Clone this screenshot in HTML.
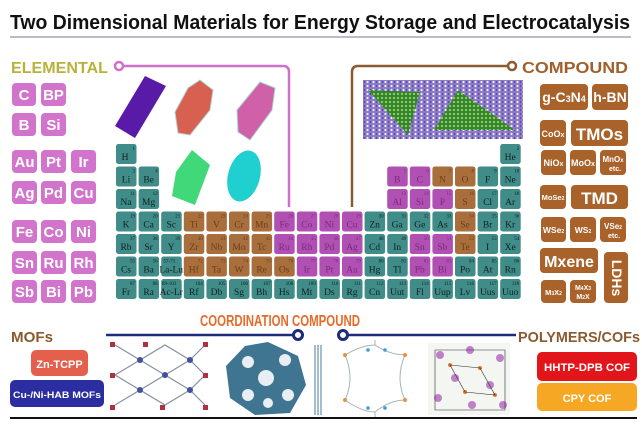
<!DOCTYPE html>
<html><head><meta charset="utf-8"><style>
html,body{margin:0;padding:0;background:#fff;width:642px;height:429px;overflow:hidden}
svg{display:block}
.c rect{width:20.5px;height:20px;rx:2.5px}
.t rect{fill:#3f8c88}.b rect{fill:#a86e3c}.m rect{fill:#b050b2}
.c text{font-family:"Liberation Serif",serif;font-size:9.5px;text-anchor:middle;fill:#10201f}
.c text.n{font-size:5px;text-anchor:end}
.b text{fill:#6a3e18}.m text{fill:#7a2a80}
.pk rect{fill:#d274cc}.pk text,.br text{font-family:"Liberation Sans",sans-serif;font-weight:bold;fill:#fff;text-anchor:middle}
.br rect{fill:#a8622a}
</style></head><body>
<svg width="642" height="429" viewBox="0 0 642 429" xmlns="http://www.w3.org/2000/svg">
<defs>
<pattern id="hb" width="6" height="4" patternUnits="userSpaceOnUse"><rect width="6" height="4" fill="#8a7ac8"/><circle cx="1.5" cy="2" r="1.1" fill="#f0eaf8"/><circle cx="4.5" cy="2" r="0.9" fill="#5a3a9a"/></pattern>
<pattern id="dots" width="4" height="4" patternUnits="userSpaceOnUse"><rect width="4" height="4" fill="#2a8a3a"/><circle cx="2" cy="2" r="1" fill="#d8d040"/></pattern>
</defs>
<text x="320" y="29" font-family="Liberation Sans,sans-serif" font-weight="bold" font-size="20" text-anchor="middle" textLength="620" lengthAdjust="spacingAndGlyphs" fill="#111">Two Dimensional Materials for Energy Storage and Electrocatalysis</text>
<line x1="10" y1="37" x2="631" y2="37" stroke="#777890" stroke-width="1"/>

<text x="11" y="73" font-family="Liberation Sans,sans-serif" font-weight="bold" font-size="16" textLength="97" lengthAdjust="spacingAndGlyphs" fill="#b8b23a">ELEMENTAL</text>
<path d="M124 66 H283 Q289 66 289 72 V207" fill="none" stroke="#d070c8" stroke-width="2.5"/>
<circle cx="119" cy="66" r="4" fill="#fff" stroke="#d070c8" stroke-width="2.5"/>

<text x="628" y="73" font-family="Liberation Sans,sans-serif" font-weight="bold" font-size="16" text-anchor="end" textLength="106" lengthAdjust="spacingAndGlyphs" fill="#a0602a">COMPOUND</text>
<path d="M352 207 V72 Q352 66 358 66 H507" fill="none" stroke="#8a5a30" stroke-width="2.5"/>
<circle cx="512" cy="66" r="4" fill="#fff" stroke="#8a5a30" stroke-width="2.5"/>

<!-- elemental images -->
<polygon points="145,76 166,86 135,138 115,126" fill="#5a1aa8"/>
<polygon points="200,80 213,90 210,110 190,135 178,133 175,112 188,88" fill="#d86050" stroke="#b0d0d0"/>
<polygon points="260,82 275,88 272,110 250,140 238,132 237,110" fill="#d060a8" stroke="#a8d0d0"/>
<polygon points="192,150 210,165 195,205 172,196 176,172" fill="#40d878"/>
<ellipse cx="244" cy="176" rx="16" ry="26" fill="#20d0d0" transform="rotate(15 244 176)"/>
<!-- compound image -->
<rect x="363" y="80" width="160" height="59" fill="url(#hb)"/>
<polygon points="368,90 420,92 408,135" fill="url(#dots)"/>
<polygon points="458,90 515,130 434,130" fill="url(#dots)"/>

<!-- left pink boxes -->
<g class="pk" font-size="15">
<g transform="translate(12,83)"><rect width="24" height="23" rx="4"/><text x="12" y="17">C</text></g>
<g transform="translate(41,83)"><rect width="25" height="23" rx="4"/><text x="12.5" y="17">BP</text></g>
<g transform="translate(12,113)"><rect width="24" height="23" rx="4"/><text x="12" y="17">B</text></g>
<g transform="translate(41,113)"><rect width="25" height="23" rx="4"/><text x="12.5" y="17">Si</text></g>
<g transform="translate(12,150)"><rect width="25" height="23" rx="4"/><text x="12.5" y="17">Au</text></g>
<g transform="translate(41,150)"><rect width="25" height="23" rx="4"/><text x="12.5" y="17">Pt</text></g>
<g transform="translate(71,150)"><rect width="25" height="23" rx="4"/><text x="12.5" y="17">Ir</text></g>
<g transform="translate(12,181)"><rect width="25" height="23" rx="4"/><text x="12.5" y="17">Ag</text></g>
<g transform="translate(41,181)"><rect width="25" height="23" rx="4"/><text x="12.5" y="17">Pd</text></g>
<g transform="translate(71,181)"><rect width="25" height="23" rx="4"/><text x="12.5" y="17">Cu</text></g>
<g transform="translate(12,220)"><rect width="25" height="23" rx="4"/><text x="12.5" y="17">Fe</text></g>
<g transform="translate(41,220)"><rect width="25" height="23" rx="4"/><text x="12.5" y="17">Co</text></g>
<g transform="translate(71,220)"><rect width="25" height="23" rx="4"/><text x="12.5" y="17">Ni</text></g>
<g transform="translate(12,251)"><rect width="25" height="23" rx="4"/><text x="12.5" y="17">Sn</text></g>
<g transform="translate(41,251)"><rect width="25" height="23" rx="4"/><text x="12.5" y="17">Ru</text></g>
<g transform="translate(71,251)"><rect width="25" height="23" rx="4"/><text x="12.5" y="17">Rh</text></g>
<g transform="translate(12,280)"><rect width="25" height="23" rx="4"/><text x="12.5" y="17">Sb</text></g>
<g transform="translate(41,280)"><rect width="25" height="23" rx="4"/><text x="12.5" y="17">Bi</text></g>
<g transform="translate(71,280)"><rect width="25" height="23" rx="4"/><text x="12.5" y="17">Pb</text></g>
</g>

<!-- right brown boxes -->
<g class="br">
<g transform="translate(540,84)"><rect width="48" height="26" rx="4"/><text x="24" y="18" font-size="14">g-C<tspan font-size="9">3</tspan>N<tspan font-size="9">4</tspan></text></g>
<g transform="translate(592,84)"><rect width="36" height="26" rx="4"/><text x="18" y="18" font-size="14">h-BN</text></g>
<g transform="translate(540,120)"><rect width="26" height="26" rx="4"/><text x="13" y="17" font-size="9">CoO<tspan font-size="7">x</tspan></text></g>
<g transform="translate(571,120)"><rect width="57" height="26" rx="4"/><text x="28.5" y="20" font-size="17">TMOs</text></g>
<g transform="translate(541,150)"><rect width="25" height="25" rx="4"/><text x="12.5" y="16" font-size="9">NiO<tspan font-size="7">x</tspan></text></g>
<g transform="translate(570,150)"><rect width="26" height="25" rx="4"/><text x="13" y="16" font-size="9">MoO<tspan font-size="7">x</tspan></text></g>
<g transform="translate(600,150)"><rect width="26" height="25" rx="4"/><text x="13" y="12" font-size="8">MnO<tspan font-size="6">x</tspan></text><text x="15" y="21" font-size="7">etc.</text></g>
<g transform="translate(540,185)"><rect width="26" height="24" rx="4"/><text x="13" y="15" font-size="7.5">MoSe<tspan font-size="5">2</tspan></text></g>
<g transform="translate(571,185)"><rect width="57" height="24" rx="4"/><text x="28.5" y="19" font-size="17">TMD</text></g>
<g transform="translate(541,217)"><rect width="25" height="25" rx="4"/><text x="12.5" y="16" font-size="8.5">WSe<tspan font-size="5">2</tspan></text></g>
<g transform="translate(570,217)"><rect width="26" height="25" rx="4"/><text x="13" y="16" font-size="8.5">WS<tspan font-size="5">2</tspan></text></g>
<g transform="translate(600,217)"><rect width="26" height="25" rx="4"/><text x="13" y="12" font-size="8">VSe<tspan font-size="5">2</tspan></text><text x="14" y="21" font-size="7">etc.</text></g>
<g transform="translate(540,248)"><rect width="58" height="25" rx="4"/><text x="29" y="19" font-size="16">Mxene</text></g>
<g transform="translate(604,252)"><rect width="24" height="51" rx="4"/><text transform="translate(8,26) rotate(90)" font-size="14">LDHs</text></g>
<g transform="translate(541,280)"><rect width="25" height="23" rx="4"/><text x="12.5" y="15" font-size="7.5">M<tspan font-size="5">3</tspan>X<tspan font-size="5">2</tspan></text></g>
<g transform="translate(570,280)"><rect width="26" height="23" rx="4"/><text x="13" y="10" font-size="7">M<tspan font-size="5">4</tspan>X<tspan font-size="5">3</tspan></text><text x="13" y="19" font-size="7">M<tspan font-size="5">2</tspan>X</text></g>
</g>

<!-- periodic table -->
<g class="c t" transform="translate(116,144)"><rect/><text x="9" y="16">H</text><text class="n" x="19" y="6">1</text></g>
<g class="c t" transform="translate(500.2,144)"><rect/><text x="10" y="16">He</text><text class="n" x="19" y="6">2</text></g>

<g class="c t" transform="translate(116,166.5)"><rect/><text x="10" y="16">Li</text><text class="n" x="19" y="6">3</text></g>
<g class="c t" transform="translate(138.6,166.5)"><rect/><text x="10" y="16">Be</text><text class="n" x="19" y="6">4</text></g>
<g class="c m" transform="translate(387.2,166.5)"><rect/><text x="10" y="16">B</text><text class="n" x="19" y="6">5</text></g>
<g class="c m" transform="translate(409.8,166.5)"><rect/><text x="10" y="16">C</text><text class="n" x="19" y="6">6</text></g>
<g class="c b" transform="translate(432.4,166.5)"><rect/><text x="10" y="16">N</text><text class="n" x="19" y="6">7</text></g>
<g class="c b" transform="translate(455,166.5)"><rect/><text x="10" y="16">O</text><text class="n" x="19" y="6">8</text></g>
<g class="c t" transform="translate(477.6,166.5)"><rect/><text x="10" y="16">F</text><text class="n" x="19" y="6">9</text></g>
<g class="c t" transform="translate(500.2,166.5)"><rect/><text x="10" y="16">Ne</text><text class="n" x="19" y="6">10</text></g>

<g class="c t" transform="translate(116,189)"><rect/><text x="10" y="16">Na</text><text class="n" x="19" y="6">11</text></g>
<g class="c t" transform="translate(138.6,189)"><rect/><text x="10" y="16">Mg</text><text class="n" x="19" y="6">12</text></g>
<g class="c m" transform="translate(387.2,189)"><rect/><text x="10" y="16">Al</text><text class="n" x="19" y="6">13</text></g>
<g class="c m" transform="translate(409.8,189)"><rect/><text x="10" y="16">Si</text><text class="n" x="19" y="6">14</text></g>
<g class="c m" transform="translate(432.4,189)"><rect/><text x="10" y="16">P</text><text class="n" x="19" y="6">15</text></g>
<g class="c b" transform="translate(455,189)"><rect/><text x="10" y="16">S</text><text class="n" x="19" y="6">16</text></g>
<g class="c t" transform="translate(477.6,189)"><rect/><text x="10" y="16">Cl</text><text class="n" x="19" y="6">17</text></g>
<g class="c t" transform="translate(500.2,189)"><rect/><text x="10" y="16">Ar</text><text class="n" x="19" y="6">18</text></g>

<g class="c t" transform="translate(116,211.5)"><rect/><text x="10" y="16">K</text><text class="n" x="19" y="6">19</text></g>
<g class="c t" transform="translate(138.6,211.5)"><rect/><text x="10" y="16">Ca</text><text class="n" x="19" y="6">20</text></g>
<g class="c t" transform="translate(161.2,211.5)"><rect/><text x="10" y="16">Sc</text><text class="n" x="19" y="6">21</text></g>
<g class="c b" transform="translate(183.8,211.5)"><rect/><text x="10" y="16">Ti</text><text class="n" x="19" y="6">22</text></g>
<g class="c b" transform="translate(206.4,211.5)"><rect/><text x="10" y="16">V</text><text class="n" x="19" y="6">23</text></g>
<g class="c b" transform="translate(229,211.5)"><rect/><text x="10" y="16">Cr</text><text class="n" x="19" y="6">24</text></g>
<g class="c b" transform="translate(251.6,211.5)"><rect/><text x="10" y="16">Mn</text><text class="n" x="19" y="6">25</text></g>
<g class="c m" transform="translate(274.2,211.5)"><rect/><text x="10" y="16">Fe</text><text class="n" x="19" y="6">26</text></g>
<g class="c m" transform="translate(296.8,211.5)"><rect/><text x="10" y="16">Co</text><text class="n" x="19" y="6">27</text></g>
<g class="c m" transform="translate(319.4,211.5)"><rect/><text x="10" y="16">Ni</text><text class="n" x="19" y="6">28</text></g>
<g class="c m" transform="translate(342,211.5)"><rect/><text x="10" y="16">Cu</text><text class="n" x="19" y="6">29</text></g>
<g class="c t" transform="translate(364.6,211.5)"><rect/><text x="10" y="16">Zn</text><text class="n" x="19" y="6">30</text></g>
<g class="c t" transform="translate(387.2,211.5)"><rect/><text x="10" y="16">Ga</text><text class="n" x="19" y="6">31</text></g>
<g class="c t" transform="translate(409.8,211.5)"><rect/><text x="10" y="16">Ge</text><text class="n" x="19" y="6">32</text></g>
<g class="c t" transform="translate(432.4,211.5)"><rect/><text x="10" y="16">As</text><text class="n" x="19" y="6">33</text></g>
<g class="c b" transform="translate(455,211.5)"><rect/><text x="10" y="16">Se</text><text class="n" x="19" y="6">34</text></g>
<g class="c t" transform="translate(477.6,211.5)"><rect/><text x="10" y="16">Br</text><text class="n" x="19" y="6">35</text></g>
<g class="c t" transform="translate(500.2,211.5)"><rect/><text x="10" y="16">Kr</text><text class="n" x="19" y="6">36</text></g>

<g class="c t" transform="translate(116,234)"><rect/><text x="10" y="16">Rb</text><text class="n" x="19" y="6">37</text></g>
<g class="c t" transform="translate(138.6,234)"><rect/><text x="10" y="16">Sr</text><text class="n" x="19" y="6">38</text></g>
<g class="c t" transform="translate(161.2,234)"><rect/><text x="10" y="16">Y</text><text class="n" x="19" y="6">39</text></g>
<g class="c b" transform="translate(183.8,234)"><rect/><text x="10" y="16">Zr</text><text class="n" x="19" y="6">40</text></g>
<g class="c b" transform="translate(206.4,234)"><rect/><text x="10" y="16">Nb</text><text class="n" x="19" y="6">41</text></g>
<g class="c b" transform="translate(229,234)"><rect/><text x="10" y="16">Mo</text><text class="n" x="19" y="6">42</text></g>
<g class="c b" transform="translate(251.6,234)"><rect/><text x="10" y="16">Tc</text><text class="n" x="19" y="6">43</text></g>
<g class="c m" transform="translate(274.2,234)"><rect/><text x="10" y="16">Ru</text><text class="n" x="19" y="6">44</text></g>
<g class="c m" transform="translate(296.8,234)"><rect/><text x="10" y="16">Rh</text><text class="n" x="19" y="6">45</text></g>
<g class="c m" transform="translate(319.4,234)"><rect/><text x="10" y="16">Pd</text><text class="n" x="19" y="6">46</text></g>
<g class="c m" transform="translate(342,234)"><rect/><text x="10" y="16">Ag</text><text class="n" x="19" y="6">47</text></g>
<g class="c t" transform="translate(364.6,234)"><rect/><text x="10" y="16">Cd</text><text class="n" x="19" y="6">48</text></g>
<g class="c t" transform="translate(387.2,234)"><rect/><text x="10" y="16">In</text><text class="n" x="19" y="6">49</text></g>
<g class="c m" transform="translate(409.8,234)"><rect/><text x="10" y="16">Sn</text><text class="n" x="19" y="6">50</text></g>
<g class="c m" transform="translate(432.4,234)"><rect/><text x="10" y="16">Sb</text><text class="n" x="19" y="6">51</text></g>
<g class="c b" transform="translate(455,234)"><rect/><text x="10" y="16">Te</text><text class="n" x="19" y="6">52</text></g>
<g class="c t" transform="translate(477.6,234)"><rect/><text x="10" y="16">I</text><text class="n" x="19" y="6">53</text></g>
<g class="c t" transform="translate(500.2,234)"><rect/><text x="10" y="16">Xe</text><text class="n" x="19" y="6">54</text></g>

<g class="c t" transform="translate(116,256.5)"><rect/><text x="10" y="16">Cs</text><text class="n" x="19" y="6">55</text></g>
<g class="c t" transform="translate(138.6,256.5)"><rect/><text x="10" y="16">Ba</text><text class="n" x="19" y="6">56</text></g>
<g class="c t" transform="translate(161.2,256.5)"><rect/><text x="10" y="16" font-size="7">La-Lu</text><text class="n" x="14" y="6">57-71</text></g>
<g class="c b" transform="translate(183.8,256.5)"><rect/><text x="10" y="16">Hf</text><text class="n" x="19" y="6">72</text></g>
<g class="c b" transform="translate(206.4,256.5)"><rect/><text x="10" y="16">Ta</text><text class="n" x="19" y="6">73</text></g>
<g class="c b" transform="translate(229,256.5)"><rect/><text x="10" y="16">W</text><text class="n" x="19" y="6">74</text></g>
<g class="c b" transform="translate(251.6,256.5)"><rect/><text x="10" y="16">Re</text><text class="n" x="19" y="6">75</text></g>
<g class="c b" transform="translate(274.2,256.5)"><rect/><text x="10" y="16">Os</text><text class="n" x="19" y="6">76</text></g>
<g class="c m" transform="translate(296.8,256.5)"><rect/><text x="10" y="16">Ir</text><text class="n" x="19" y="6">77</text></g>
<g class="c m" transform="translate(319.4,256.5)"><rect/><text x="10" y="16">Pt</text><text class="n" x="19" y="6">78</text></g>
<g class="c m" transform="translate(342,256.5)"><rect/><text x="10" y="16">Au</text><text class="n" x="19" y="6">79</text></g>
<g class="c t" transform="translate(364.6,256.5)"><rect/><text x="10" y="16">Hg</text><text class="n" x="19" y="6">80</text></g>
<g class="c t" transform="translate(387.2,256.5)"><rect/><text x="10" y="16">Tl</text><text class="n" x="19" y="6">81</text></g>
<g class="c m" transform="translate(409.8,256.5)"><rect/><text x="10" y="16">Pb</text><text class="n" x="19" y="6">82</text></g>
<g class="c m" transform="translate(432.4,256.5)"><rect/><text x="10" y="16">Bi</text><text class="n" x="19" y="6">83</text></g>
<g class="c t" transform="translate(455,256.5)"><rect/><text x="10" y="16">Po</text><text class="n" x="19" y="6">84</text></g>
<g class="c t" transform="translate(477.6,256.5)"><rect/><text x="10" y="16">At</text><text class="n" x="19" y="6">85</text></g>
<g class="c t" transform="translate(500.2,256.5)"><rect/><text x="10" y="16">Rn</text><text class="n" x="19" y="6">86</text></g>

<g class="c t" transform="translate(116,279)"><rect/><text x="10" y="16">Fr</text><text class="n" x="19" y="6">87</text></g>
<g class="c t" transform="translate(138.6,279)"><rect/><text x="10" y="16">Ra</text><text class="n" x="19" y="6">88</text></g>
<g class="c t" transform="translate(161.2,279)"><rect/><text x="10" y="16" font-size="7">Ac-Lr</text><text class="n" x="15" y="6">89-103</text></g>
<g class="c t" transform="translate(183.8,279)"><rect/><text x="10" y="16">Rf</text><text class="n" x="19" y="6">104</text></g>
<g class="c t" transform="translate(206.4,279)"><rect/><text x="10" y="16">Db</text><text class="n" x="19" y="6">105</text></g>
<g class="c t" transform="translate(229,279)"><rect/><text x="10" y="16">Sg</text><text class="n" x="19" y="6">106</text></g>
<g class="c t" transform="translate(251.6,279)"><rect/><text x="10" y="16">Bh</text><text class="n" x="19" y="6">107</text></g>
<g class="c t" transform="translate(274.2,279)"><rect/><text x="10" y="16">Hs</text><text class="n" x="19" y="6">108</text></g>
<g class="c t" transform="translate(296.8,279)"><rect/><text x="10" y="16">Mt</text><text class="n" x="19" y="6">109</text></g>
<g class="c t" transform="translate(319.4,279)"><rect/><text x="10" y="16">Ds</text><text class="n" x="19" y="6">110</text></g>
<g class="c t" transform="translate(342,279)"><rect/><text x="10" y="16">Rg</text><text class="n" x="19" y="6">111</text></g>
<g class="c t" transform="translate(364.6,279)"><rect/><text x="10" y="16">Cn</text><text class="n" x="19" y="6">112</text></g>
<g class="c t" transform="translate(387.2,279)"><rect/><text x="10" y="16" font-size="8">Uut</text><text class="n" x="19" y="6">113</text></g>
<g class="c t" transform="translate(409.8,279)"><rect/><text x="10" y="16">Fl</text><text class="n" x="19" y="6">114</text></g>
<g class="c t" transform="translate(432.4,279)"><rect/><text x="10" y="16" font-size="8">Uup</text><text class="n" x="19" y="6">115</text></g>
<g class="c t" transform="translate(455,279)"><rect/><text x="10" y="16">Lv</text><text class="n" x="19" y="6">116</text></g>
<g class="c t" transform="translate(477.6,279)"><rect/><text x="10" y="16" font-size="8">Uus</text><text class="n" x="19" y="6">117</text></g>
<g class="c t" transform="translate(500.2,279)"><rect/><text x="10" y="16" font-size="8">Uuo</text><text class="n" x="19" y="6">118</text></g>

<!-- bottom section -->
<text x="280" y="326" font-family="Liberation Sans,sans-serif" font-weight="bold" font-size="16" text-anchor="middle" textLength="160" lengthAdjust="spacingAndGlyphs" fill="#e86a28">COORDINATION COMPOUND</text>
<line x1="106" y1="335" x2="293" y2="335" stroke="#1e2a7a" stroke-width="2.5"/>
<circle cx="298" cy="335" r="4.5" fill="#fff" stroke="#1e2a7a" stroke-width="3"/>
<circle cx="343" cy="335" r="4.5" fill="#fff" stroke="#1e2a7a" stroke-width="3"/>
<line x1="348" y1="335" x2="516" y2="335" stroke="#1e2a7a" stroke-width="2.5"/>
<text x="11" y="342" font-family="Liberation Sans,sans-serif" font-weight="bold" font-size="15" textLength="42" lengthAdjust="spacingAndGlyphs" fill="#8a5a30">MOFs</text>
<text x="640" y="342" font-family="Liberation Sans,sans-serif" font-weight="bold" font-size="15" text-anchor="end" textLength="122" lengthAdjust="spacingAndGlyphs" fill="#8a5a30">POLYMERS/COFs</text>

<rect x="31" y="350" width="57" height="26" rx="5" fill="#e4604c"/>
<text x="59.5" y="368" font-family="Liberation Sans,sans-serif" font-weight="bold" font-size="11" text-anchor="middle" fill="#fff">Zn-TCPP</text>
<rect x="10" y="380" width="94" height="27" rx="5" fill="#2a2ea0"/>
<text x="57" y="398" font-family="Liberation Sans,sans-serif" font-weight="bold" font-size="9" text-anchor="middle" textLength="88" lengthAdjust="spacingAndGlyphs" fill="#fff">Cu-/Ni-HAB MOFs</text>
<rect x="537" y="352" width="100" height="29" rx="5" fill="#e2161a"/>
<text x="587" y="371" font-family="Liberation Sans,sans-serif" font-weight="bold" font-size="11" text-anchor="middle" textLength="86" lengthAdjust="spacingAndGlyphs" fill="#fff">HHTP-DPB COF</text>
<rect x="537" y="383" width="100" height="28" rx="5" fill="#f6a824"/>
<text x="587" y="402" font-family="Liberation Sans,sans-serif" font-weight="bold" font-size="11" text-anchor="middle" fill="#fff">CPY COF</text>

<!-- MOF lattice image -->
<g stroke="#8890a0" stroke-width="1.2" fill="none">
<path d="M115 345 L140 360 L165 345 L190 360 L205 345 M115 375 L140 360 M165 375 L140 360 M165 375 L190 360 L205 375 M115 375 L140 390 L165 375 L190 390 L205 375 M115 405 L140 390 L165 405 L190 390 L205 405"/>
</g>
<g fill="#b03040"><rect x="110" y="342" width="5" height="5"/><rect x="143" y="342" width="5" height="5"/><rect x="203" y="342" width="5" height="5"/><rect x="110" y="373" width="5" height="5"/><rect x="203" y="373" width="5" height="5"/><rect x="110" y="405" width="5" height="5"/><rect x="160" y="405" width="5" height="5"/><rect x="203" y="405" width="5" height="5"/></g>
<g fill="#4050a0"><circle cx="140" cy="360" r="3"/><circle cx="190" cy="360" r="3"/><circle cx="140" cy="390" r="3"/><circle cx="190" cy="390" r="3"/><circle cx="165" cy="375" r="3"/></g>
<!-- hex MOF -->
<polygon points="268,342 298,356 306,385 290,413 255,415 230,398 226,366 245,346" fill="#3f7590"/>
<g fill="#e8eef2"><circle cx="266" cy="378" r="8"/><circle cx="248" cy="362" r="6"/><circle cx="285" cy="360" r="6"/><circle cx="288" cy="395" r="6"/><circle cx="248" cy="395" r="6"/><circle cx="268" cy="403" r="5"/></g>
<g stroke="#4a7aa0" stroke-width="1"><line x1="315" y1="345" x2="315" y2="415"/><line x1="318" y1="345" x2="318" y2="415"/><line x1="321" y1="345" x2="321" y2="415"/></g>
<!-- COF images -->
<g stroke="#a8b4b8" stroke-width="1" fill="none"><path d="M345 355 Q362 345 375 345 Q390 355 405 355 M345 355 Q355 378 345 400 M405 355 Q395 378 405 400 M345 400 Q362 412 375 412 Q390 400 405 400 M375 345 V340 M375 412 V417"/></g>
<g fill="#e89040"><circle cx="345" cy="355" r="2"/><circle cx="405" cy="355" r="2"/><circle cx="345" cy="400" r="2"/><circle cx="405" cy="400" r="2"/></g>
<g fill="#3aa0d0"><circle cx="368" cy="350" r="1.8"/><circle cx="385" cy="350" r="1.8"/><circle cx="368" cy="408" r="1.8"/><circle cx="385" cy="408" r="1.8"/></g>
<rect x="428" y="343" width="82" height="72" fill="#f4f6f2"/>
<g fill="#c080c8"><circle cx="440" cy="355" r="4"/><circle cx="470" cy="350" r="4"/><circle cx="500" cy="358" r="4"/><circle cx="455" cy="378" r="4"/><circle cx="490" cy="385" r="4"/><circle cx="438" cy="398" r="4"/><circle cx="472" cy="405" r="4"/><circle cx="503" cy="405" r="4"/></g>
<g fill="#e87830"><circle cx="450" cy="365" r="2"/><circle cx="480" cy="368" r="2"/><circle cx="465" cy="392" r="2"/><circle cx="495" cy="395" r="2"/></g>
<g stroke="#303030" stroke-width="0.6" fill="none"><path d="M435 350 L505 350 L505 410 L435 410 Z M450 365 L480 368 L495 395 L465 392 Z"/></g>

<line x1="10" y1="418" x2="637" y2="418" stroke="#111" stroke-width="2"/>
</svg>
</body></html>
